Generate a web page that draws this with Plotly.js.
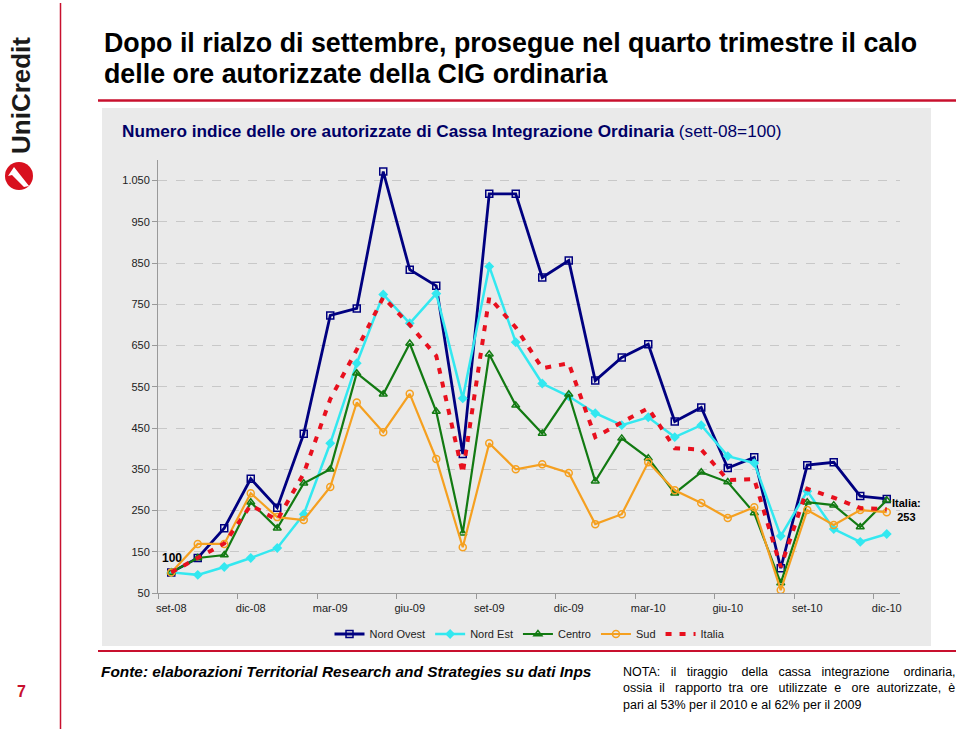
<!DOCTYPE html>
<html>
<head>
<meta charset="utf-8">
<script src="https://cdn.plot.ly/plotly-3.0.1.min.js"></script>
<style>html,body{margin:0;padding:0;background:#fff;}#chart{width:960px;height:734px;}</style>
</head>
<body>
<div id="chart"></div>
<script>
// ---- DATA ----
const months = ['set-08','ott-08','nov-08','dic-08','gen-09','feb-09','mar-09','apr-09','mag-09','giu-09','lug-09','ago-09',
  'set-09','ott-09','nov-09','dic-09','gen-10','feb-10','mar-10','apr-10','mag-10','giu-10','lug-10','ago-10',
  'set-10','ott-10','nov-10','dic-10'];
const tickLabels = ['set-08','dic-08','mar-09','giu-09','set-09','dic-09','mar-10','giu-10','set-10','dic-10'];
const nordOvest = [100,135,207,327,257,436,723,740,1072,834,795,387,1018,1018,815,856,565,621,653,466,500,353,379,110,360,367,285,278];
const nordEst   = [100,94,113,135,159,241,413,607,774,704,776,522,842,658,558,527,486,457,476,428,457,382,365,188,297,205,174,193];
const centro    = [100,135,142,270,207,316,350,583,532,655,490,195,629,505,437,532,321,425,377,292,343,319,244,74,270,263,210,275];
const sud       = [100,169,169,292,234,227,307,512,440,533,375,161,413,350,362,341,217,241,367,299,268,232,258,57,251,215,251,246];
const italia    = [100,135,170,263,227,340,520,640,767,700,625,340,767,694,595,607,428,464,498,401,398,324,326,113,303,281,256,253];

// ---- layout helpers (pixel -> paper) ----
const L = 158, R = 900, T = 160, B = 593;
const px = x => (x - L) / (R - L);
const py = y => (B - y) / (B - T);

const xs = months.map((m, i) => i);
const tickVals = tickLabels.map(t => months.indexOf(t));

function series(name, y, color, width, symbol, msize, dash) {
  const t = {x: xs, y: y, name: name, type: 'scatter', mode: symbol ? 'lines+markers' : 'lines',
    line: {color: color, width: width, dash: dash || 'solid'}, hoverinfo: 'skip'};
  if (symbol) t.marker = {symbol: symbol, size: msize, color: color, line: {color: color, width: 1.5}};
  return t;
}

const traces = [
  series('Nord Ovest', nordOvest, '#000080', 2.8, 'square-open', 7),
  series('Nord Est', nordEst, '#33E8F0', 2.5, 'diamond', 6),
  series('Centro', centro, '#127A12', 2.2, 'triangle-up-open', 7),
  series('Sud', sud, '#F5A020', 2.2, 'circle-open', 7),
  series('Italia', italia, '#E8101E', 4, null, 0, '6px,8px')
];

const red = '#C8102E';
const shapes = [
  {type: 'rect', xref: 'paper', yref: 'paper', x0: px(102), x1: px(931), y0: py(646), y1: py(108),
   fillcolor: '#EAEAEA', line: {width: 0}, layer: 'below'},
  {type: 'line', xref: 'paper', yref: 'paper', x0: px(60.5), x1: px(60.5), y0: py(3), y1: py(729), line: {color: red, width: 1.5}},
  {type: 'line', xref: 'paper', yref: 'paper', x0: px(98), x1: px(956), y0: py(100.5), y1: py(100.5), line: {color: red, width: 2.5}},
  {type: 'line', xref: 'paper', yref: 'paper', x0: px(98), x1: px(956), y0: py(651), y1: py(651), line: {color: red, width: 2}},
  {type: 'circle', xref: 'paper', yref: 'paper', x0: px(5), x1: px(33), y0: py(190), y1: py(162),
   fillcolor: '#D8101E', line: {width: 0}},
  {type: 'path', xref: 'paper', yref: 'paper',
   path: 'M ' + px(14) + ' ' + py(167) + ' L ' + px(29) + ' ' + py(186) + ' L ' + px(24) + ' ' + py(187) + ' L ' + px(12) + ' ' + py(175) + ' L ' + px(8) + ' ' + py(176) + ' Z',
   fillcolor: '#ffffff', line: {width: 0}}
];

const F = 'Liberation Sans, Arial, sans-serif';
const S = '\u00A0';
const sp = n => S.repeat(n);
const nota1 = 'NOTA:' + sp(3) + 'il' + sp(3) + 'tiraggio' + sp(4) + 'della' + sp(3) + 'cassa' + sp(3) + 'integrazione' + sp(4) + 'ordinaria,';
const nota2 = 'ossia' + sp(2) + 'il' + sp(3) + 'rapporto' + sp(2) + 'tra' + sp(2) + 'ore' + sp(3) + 'utilizzate' + sp(2) + 'e' + sp(3) + 'ore' + sp(2) + 'autorizzate,' + sp(2) + 'è';
const nota3 = 'pari al 53% per il 2010 e al 62% per il 2009';

const annotations = [
  {xref: 'paper', yref: 'paper', x: px(102), y: py(43), xanchor: 'left', yanchor: 'middle', showarrow: false,
   text: '<b>Dopo il rialzo di settembre, prosegue nel quarto trimestre il calo</b>',
   font: {family: F, size: 26.8, color: '#000'}},
  {xref: 'paper', yref: 'paper', x: px(102), y: py(74), xanchor: 'left', yanchor: 'middle', showarrow: false,
   text: '<b>delle ore autorizzate della CIG ordinaria</b>',
   font: {family: F, size: 26.8, color: '#000'}},
  {xref: 'paper', yref: 'paper', x: px(120), y: py(131), xanchor: 'left', yanchor: 'middle', showarrow: false,
   text: '<b>Numero indice delle ore autorizzate di Cassa Integrazione Ordinaria</b> (sett-08=100)',
   font: {family: F, size: 17.2, color: '#000066'}},
  {x: 0, y: nordOvest[0], xref: 'x', yref: 'y', showarrow: false, text: '<b>100</b>', yshift: 14, xshift: 1,
   font: {family: F, size: 12, color: '#000'}},
  {x: xs[xs.length - 1], y: italia[italia.length - 1], xref: 'x', yref: 'y', showarrow: false,
   text: '<b>Italia:<br>253</b>', xshift: 20, yshift: -1, align: 'center', font: {family: F, size: 11, color: '#000'}},
  {xref: 'paper', yref: 'paper', x: px(99), y: py(671), xanchor: 'left', yanchor: 'middle', showarrow: false,
   text: '<b><i>Fonte: elaborazioni Territorial Research and Strategies su dati Inps</i></b>',
   font: {family: F, size: 15.4, color: '#000'}},
  {xref: 'paper', yref: 'paper', x: px(621), y: py(688), xanchor: 'left', yanchor: 'middle', showarrow: false, align: 'left',
   text: nota1 + '<br>' + nota2 + '<br>' + nota3,
   font: {family: F, size: 12.5, color: '#000'}},
  {xref: 'paper', yref: 'paper', x: px(21), y: py(691), xanchor: 'center', yanchor: 'middle', showarrow: false,
   text: '<b>7</b>', font: {family: F, size: 16, color: red}},
  {xref: 'paper', yref: 'paper', x: px(21), y: py(96), xanchor: 'center', yanchor: 'middle', showarrow: false,
   text: '<b>UniCredit</b>', textangle: -90, font: {family: F, size: 26, color: '#1a1a1a'}}
];

const layout = {
  width: 960, height: 734,
  margin: {l: L, r: 960 - R, t: T, b: 734 - B, pad: 0},
  paper_bgcolor: '#ffffff', plot_bgcolor: 'rgba(0,0,0,0)',
  separators: ',.',
  font: {family: F, size: 11, color: '#222'},
  xaxis: {range: [-0.5, xs.length - 0.5], tickmode: 'array', tickvals: tickVals, ticktext: tickLabels,
    ticks: '', showgrid: false, zeroline: false, showline: true, linecolor: '#999', linewidth: 1,
    ticklabelstandoff: 5,
    tickfont: {family: F, size: 11, color: '#222'},
    minor: {tickmode: 'linear', tick0: 2.5, dtick: 3, ticks: 'outside', ticklen: 5, tickcolor: '#999', showgrid: false}},
  yaxis: {range: [50, 1100], tick0: 50, dtick: 100, separatethousands: true, tickformat: ',d',
    ticks: 'outside', ticklen: 5, tickcolor: '#999', showline: true, linecolor: '#999', linewidth: 1,
    showgrid: true, gridcolor: '#C8C8C8', griddash: 'dash', gridwidth: 1, zeroline: false,
    tickfont: {family: F, size: 11, color: '#222'}},
  showlegend: true,
  legend: {orientation: 'h', x: px(530), xanchor: 'center', y: py(634), yanchor: 'middle',
    bgcolor: 'rgba(0,0,0,0)', font: {family: F, size: 11, color: '#222'}, itemwidth: 30},
  shapes: shapes,
  annotations: annotations
};

Plotly.newPlot('chart', traces, layout, {displayModeBar: false, staticPlot: true});
</script>
</body>
</html>
